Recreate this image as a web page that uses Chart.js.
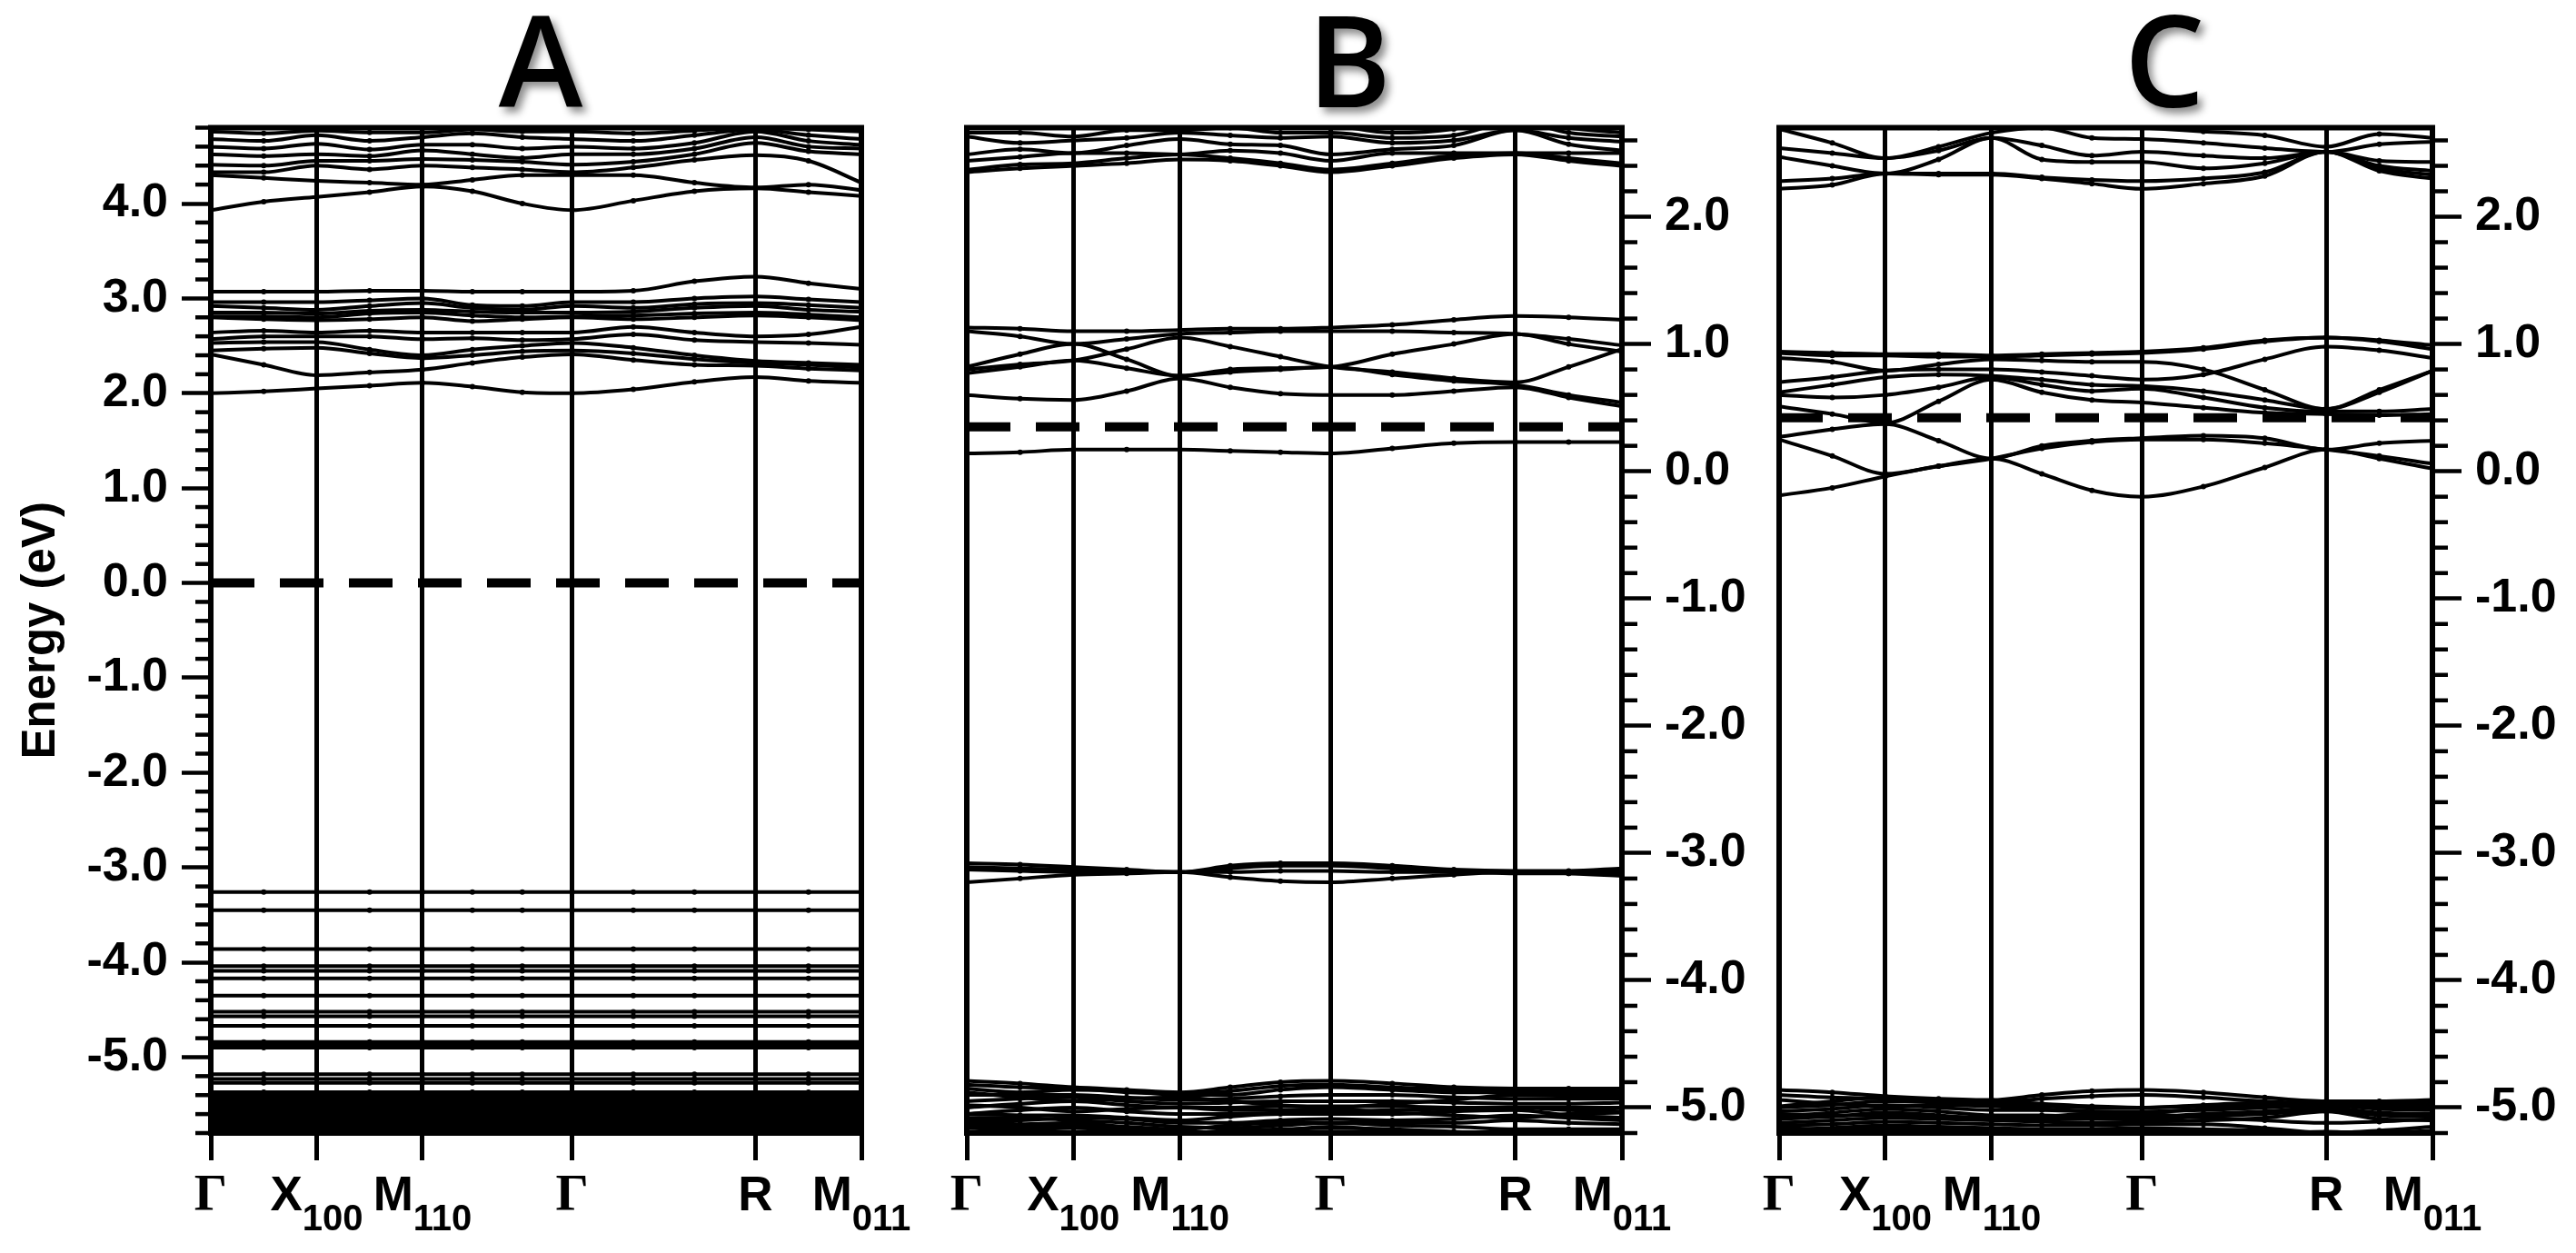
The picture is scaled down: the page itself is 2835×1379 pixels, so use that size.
<!DOCTYPE html>
<html>
<head>
<meta charset="utf-8">
<script src="https://cdn.jsdelivr.net/npm/chart.js@4.4.0/dist/chart.umd.min.js"></script>
<style>
  html, body { margin: 0; padding: 0; background: #fff; }
  body { width: 2835px; height: 1379px; position: relative; overflow: hidden; }
  canvas { position: absolute; top: 0; }
</style>
</head>
<body>
<canvas id="panelA" width="1010" height="1379" style="left:0px"></canvas>
<canvas id="panelB" width="950" height="1379" style="left:1000px"></canvas>
<canvas id="panelC" width="935" height="1379" style="left:1900px"></canvas>
<script>
// k-path: G - X100 - M110 - G - R - M011 (sample points along the path)
const kPath = [0, 0.25, 0.5, 0.75, 1.0, 1.2357, 1.4714, 1.7071, 1.9958, 2.2845, 2.5731, 2.8231, 3.0731];
const kTicks = [0, 0.5, 1.0, 1.7071, 2.5731, 3.0731];
const kLabelMain = ['Γ', 'X', 'M', 'Γ', 'R', 'M'];
const kLabelSub = ['', '100', '110', '', '', '011'];

const yTicksA = [-5, -4, -3, -2, -1, 0, 1, 2, 3, 4];
const yTicksBC = [-5, -4, -3, -2, -1, 0, 1, 2];

// Panel A
const fermiA = 0.0;
const condLowA = [
  [2.00, 2.02, 2.05, 2.08, 2.11, 2.07, 2.01, 2.00, 2.04, 2.12, 2.17, 2.13, 2.11],
  [2.41, 2.30, 2.19, 2.22, 2.25, 2.32, 2.38, 2.41, 2.35, 2.30, 2.29, 2.26, 2.24],
  [2.45, 2.47, 2.48, 2.42, 2.37, 2.40, 2.44, 2.45, 2.42, 2.36, 2.32, 2.30, 2.27],
  [2.53, 2.54, 2.54, 2.46, 2.40, 2.46, 2.50, 2.53, 2.48, 2.40, 2.34, 2.32, 2.30],
  [2.57, 2.60, 2.60, 2.60, 2.57, 2.58, 2.56, 2.57, 2.62, 2.56, 2.54, 2.53, 2.51],
  [2.64, 2.66, 2.64, 2.66, 2.64, 2.64, 2.64, 2.64, 2.70, 2.64, 2.60, 2.62, 2.70],
  [2.80, 2.78, 2.77, 2.78, 2.80, 2.76, 2.78, 2.80, 2.78, 2.80, 2.82, 2.80, 2.77],
  [2.81, 2.81, 2.80, 2.84, 2.85, 2.82, 2.80, 2.81, 2.82, 2.84, 2.85, 2.83, 2.80],
  [2.85, 2.85, 2.84, 2.87, 2.88, 2.86, 2.85, 2.85, 2.86, 2.90, 2.92, 2.88, 2.86],
  [2.92, 2.90, 2.88, 2.92, 2.95, 2.90, 2.88, 2.92, 2.90, 2.94, 2.95, 2.93, 2.90],
  [2.96, 2.96, 2.96, 2.98, 3.00, 2.93, 2.92, 2.96, 2.96, 3.00, 3.02, 2.99, 2.96],
  [3.07, 3.07, 3.07, 3.08, 3.08, 3.07, 3.07, 3.07, 3.08, 3.18, 3.23, 3.16, 3.10]
];
const condHighA = [
  [3.93, 4.02, 4.07, 4.12, 4.18, 4.13, 4.00, 3.93, 4.03, 4.13, 4.16, 4.12, 4.08],
  [4.30, 4.27, 4.24, 4.22, 4.20, 4.25, 4.30, 4.30, 4.30, 4.22, 4.17, 4.20, 4.14],
  [4.33, 4.33, 4.40, 4.36, 4.40, 4.38, 4.36, 4.33, 4.38, 4.46, 4.51, 4.45, 4.22],
  [4.41, 4.40, 4.45, 4.45, 4.47, 4.46, 4.44, 4.41, 4.44, 4.52, 4.64, 4.55, 4.52],
  [4.52, 4.50, 4.52, 4.50, 4.56, 4.52, 4.48, 4.52, 4.52, 4.58, 4.70, 4.60, 4.58],
  [4.60, 4.58, 4.63, 4.57, 4.62, 4.62, 4.58, 4.60, 4.58, 4.64, 4.76, 4.66, 4.62],
  [4.68, 4.66, 4.72, 4.66, 4.70, 4.74, 4.70, 4.68, 4.66, 4.72, 4.78, 4.72, 4.68],
  [4.76, 4.74, 4.77, 4.75, 4.75, 4.78, 4.76, 4.76, 4.74, 4.77, 4.80, 4.78, 4.76],
  [4.85, 4.84, 4.85, 4.85, 4.82, 4.85, 4.85, 4.85, 4.82, 4.84, 4.86, 4.84, 4.82]
];
// flat valence levels of A
const valFlatA = [-3.26, -3.45, -3.86, -4.04, -4.09, -4.17, -4.35, -4.52, -4.57, -4.67,
  -4.84, -4.87, -4.90, -5.18, -5.23, -5.27];
const valDenseA = [-5.37, -5.40, -5.43, -5.46, -5.49, -5.52, -5.55, -5.58, -5.61, -5.64,
  -5.67, -5.70, -5.73, -5.76, -5.79];

// Panel B
const fermiB = 0.35;
const condB = [
  [0.14, 0.15, 0.17, 0.17, 0.17, 0.16, 0.15, 0.14, 0.18, 0.22, 0.23, 0.23, 0.23],
  [0.60, 0.57, 0.56, 0.63, 0.73, 0.66, 0.61, 0.60, 0.60, 0.63, 0.66, 0.58, 0.51],
  [0.77, 0.82, 0.87, 0.81, 0.75, 0.78, 0.80, 0.82, 0.76, 0.71, 0.68, 0.60, 0.54],
  [0.80, 0.84, 0.87, 0.96, 1.05, 0.98, 0.90, 0.82, 0.78, 0.73, 0.70, 0.82, 0.96],
  [0.82, 0.92, 1.00, 0.88, 0.75, 0.80, 0.81, 0.82, 0.92, 1.00, 1.08, 1.00, 0.94],
  [1.10, 1.06, 1.00, 1.04, 1.08, 1.09, 1.10, 1.10, 1.10, 1.09, 1.08, 1.04, 0.99],
  [1.13, 1.12, 1.10, 1.10, 1.11, 1.12, 1.12, 1.13, 1.15, 1.19, 1.22, 1.21, 1.19]
];
const condHighB = [
  [2.35, 2.38, 2.40, 2.42, 2.45, 2.44, 2.40, 2.35, 2.40, 2.46, 2.49, 2.44, 2.40],
  [2.37, 2.41, 2.42, 2.46, 2.49, 2.46, 2.42, 2.37, 2.42, 2.48, 2.50, 2.46, 2.42],
  [2.44, 2.47, 2.50, 2.50, 2.49, 2.52, 2.50, 2.44, 2.50, 2.50, 2.50, 2.50, 2.50],
  [2.49, 2.53, 2.50, 2.56, 2.61, 2.57, 2.56, 2.49, 2.53, 2.56, 2.68, 2.57, 2.52],
  [2.63, 2.58, 2.60, 2.62, 2.66, 2.64, 2.62, 2.63, 2.58, 2.60, 2.68, 2.62, 2.59],
  [2.66, 2.66, 2.63, 2.68, 2.68, 2.70, 2.66, 2.66, 2.62, 2.64, 2.75, 2.66, 2.63],
  [2.72, 2.78, 2.75, 2.76, 2.74, 2.76, 2.74, 2.72, 2.66, 2.69, 2.80, 2.70, 2.66]
];
const valMidB = [
  [-3.23, -3.20, -3.17, -3.16, -3.15, -3.19, -3.22, -3.23, -3.20, -3.17, -3.15, -3.16, -3.18],
  [-3.13, -3.14, -3.15, -3.15, -3.15, -3.15, -3.14, -3.14, -3.15, -3.15, -3.16, -3.16, -3.16],
  [-3.11, -3.12, -3.13, -3.14, -3.15, -3.12, -3.10, -3.10, -3.12, -3.14, -3.15, -3.15, -3.14],
  [-3.08, -3.09, -3.11, -3.13, -3.15, -3.10, -3.08, -3.08, -3.10, -3.13, -3.14, -3.14, -3.12]
];
const valLowB = [
  [-4.79, -4.81, -4.84, -4.86, -4.88, -4.84, -4.80, -4.79, -4.81, -4.84, -4.85, -4.85, -4.85],
  [-4.82, -4.84, -4.85, -4.88, -4.89, -4.87, -4.83, -4.82, -4.84, -4.86, -4.87, -4.87, -4.88],
  [-4.85, -4.88, -4.86, -4.87, -4.90, -4.90, -4.86, -4.84, -4.86, -4.88, -4.88, -4.89, -4.90],
  [-4.88, -4.92, -4.95, -4.93, -4.92, -4.95, -4.98, -5.00, -4.97, -4.94, -4.90, -4.91, -4.92],
  [-4.90, -4.90, -4.90, -4.92, -4.94, -4.93, -4.91, -4.90, -4.90, -4.92, -4.93, -4.93, -4.93],
  [-4.95, -4.93, -4.92, -4.95, -4.97, -4.96, -4.95, -4.95, -4.95, -4.96, -4.97, -4.97, -4.96],
  [-4.98, -5.00, -5.03, -5.01, -5.00, -5.02, -5.02, -5.01, -5.04, -5.06, -5.08, -5.05, -5.04],
  [-5.00, -4.97, -4.95, -4.98, -5.00, -5.00, -4.99, -4.99, -4.99, -5.00, -5.00, -5.00, -5.00],
  [-5.05, -5.02, -5.00, -5.03, -5.05, -5.05, -5.04, -5.03, -5.02, -5.01, -5.00, -5.02, -5.03],
  [-5.05, -5.06, -5.06, -5.08, -5.10, -5.07, -5.05, -5.05, -5.05, -5.03, -5.02, -5.06, -5.08],
  [-5.08, -5.08, -5.10, -5.12, -5.15, -5.16, -5.14, -5.12, -5.12, -5.12, -5.10, -5.12, -5.13],
  [-5.10, -5.10, -5.08, -5.09, -5.12, -5.12, -5.10, -5.09, -5.10, -5.09, -5.06, -5.08, -5.10],
  [-5.12, -5.13, -5.12, -5.15, -5.17, -5.14, -5.12, -5.12, -5.14, -5.15, -5.17, -5.17, -5.17],
  [-5.14, -5.15, -5.14, -5.17, -5.19, -5.20, -5.18, -5.15, -5.18, -5.20, -5.19, -5.19, -5.20],
  [-5.16, -5.17, -5.16, -5.18, -5.20, -5.18, -5.17, -5.16, -5.17, -5.19, -5.21, -5.20, -5.19],
  [-5.19, -5.20, -5.20, -5.21, -5.22, -5.21, -5.20, -5.19, -5.20, -5.21, -5.22, -5.22, -5.22]
];

// Panel C
const fermiC = 0.42;
const condC = [
  [-0.19, -0.13, -0.04, 0.04, 0.10, -0.02, -0.15, -0.20, -0.12, 0.03, 0.17, 0.10, 0.02],
  [0.25, 0.12, -0.02, 0.04, 0.10, 0.18, 0.23, 0.25, 0.25, 0.22, 0.17, 0.12, 0.06],
  [0.27, 0.33, 0.37, 0.24, 0.10, 0.20, 0.24, 0.26, 0.28, 0.26, 0.17, 0.22, 0.24],
  [0.51, 0.45, 0.38, 0.55, 0.72, 0.62, 0.56, 0.54, 0.50, 0.46, 0.45, 0.44, 0.45],
  [0.60, 0.58, 0.60, 0.66, 0.74, 0.68, 0.63, 0.65, 0.58, 0.50, 0.47, 0.47, 0.49],
  [0.62, 0.68, 0.74, 0.76, 0.75, 0.72, 0.68, 0.67, 0.63, 0.56, 0.49, 0.64, 0.79],
  [0.70, 0.74, 0.79, 0.80, 0.80, 0.78, 0.75, 0.72, 0.76, 0.88, 0.98, 0.95, 0.89],
  [0.89, 0.86, 0.79, 0.84, 0.88, 0.87, 0.86, 0.86, 0.80, 0.64, 0.49, 0.62, 0.79],
  [0.93, 0.91, 0.91, 0.90, 0.90, 0.91, 0.92, 0.93, 0.96, 1.02, 1.05, 1.03, 0.99],
  [0.94, 0.93, 0.92, 0.92, 0.91, 0.92, 0.93, 0.94, 0.97, 1.03, 1.05, 1.02, 0.96]
];
const condHighC = [
  [2.22, 2.25, 2.34, 2.33, 2.33, 2.30, 2.26, 2.22, 2.26, 2.32, 2.51, 2.36, 2.30],
  [2.28, 2.30, 2.34, 2.34, 2.34, 2.31, 2.29, 2.28, 2.30, 2.35, 2.51, 2.38, 2.33],
  [2.47, 2.40, 2.34, 2.45, 2.62, 2.45, 2.43, 2.43, 2.38, 2.42, 2.51, 2.40, 2.36],
  [2.54, 2.50, 2.46, 2.52, 2.62, 2.56, 2.48, 2.51, 2.48, 2.46, 2.51, 2.44, 2.43],
  [2.69, 2.58, 2.46, 2.55, 2.66, 2.70, 2.62, 2.61, 2.58, 2.54, 2.51, 2.57, 2.59],
  [2.75, 2.72, 2.75, 2.70, 2.72, 2.75, 2.72, 2.70, 2.67, 2.64, 2.55, 2.65, 2.62]
];
const valLowC = [
  [-4.86, -4.88, -4.91, -4.93, -4.94, -4.90, -4.87, -4.86, -4.88, -4.92, -4.95, -4.95, -4.94],
  [-4.90, -4.92, -4.93, -4.95, -4.96, -4.93, -4.91, -4.90, -4.92, -4.95, -4.97, -4.96, -4.95],
  [-4.94, -4.97, -4.99, -4.98, -4.99, -5.01, -5.03, -5.04, -5.01, -4.99, -4.97, -4.99, -5.00],
  [-4.99, -4.95, -4.92, -4.94, -4.95, -4.97, -4.99, -5.00, -4.98, -4.96, -4.96, -4.96, -4.96],
  [-5.00, -4.98, -4.95, -4.96, -4.97, -4.99, -5.00, -5.00, -4.99, -4.98, -4.98, -4.98, -4.98],
  [-5.03, -5.01, -4.98, -5.00, -5.02, -5.02, -5.03, -5.03, -5.02, -5.00, -4.98, -5.01, -5.02],
  [-5.05, -5.06, -5.06, -5.07, -5.08, -5.07, -5.05, -5.05, -5.08, -5.10, -5.12, -5.11, -5.09],
  [-5.07, -5.04, -5.01, -5.03, -5.06, -5.06, -5.07, -5.07, -5.05, -5.03, -5.00, -5.04, -5.05],
  [-5.09, -5.07, -5.04, -5.06, -5.09, -5.09, -5.09, -5.09, -5.07, -5.05, -5.02, -5.06, -5.07],
  [-5.12, -5.10, -5.08, -5.09, -5.10, -5.11, -5.12, -5.11, -5.10, -5.08, -5.03, -5.09, -5.10],
  [-5.14, -5.13, -5.11, -5.12, -5.13, -5.14, -5.14, -5.13, -5.13, -5.16, -5.20, -5.18, -5.15],
  [-5.15, -5.18, -5.16, -5.17, -5.18, -5.19, -5.18, -5.17, -5.19, -5.20, -5.19, -5.21, -5.20],
  [-5.17, -5.16, -5.14, -5.15, -5.16, -5.17, -5.17, -5.16, -5.17, -5.18, -5.21, -5.20, -5.18],
  [-5.20, -5.19, -5.18, -5.19, -5.20, -5.20, -5.20, -5.19, -5.20, -5.21, -5.22, -5.22, -5.21]
];

const PLOT_TOP = 140.5;
const PLOT_BOTTOM = 1247;
const X_AXIS_H = 40;
const TICK_FONT = { family: '"Liberation Sans", Arial, Helvetica, sans-serif', size: 52, weight: 'bold' };

function bandLine(values) {
  return {
    data: kPath.map((k, i) => ({ x: k, y: values[i] })),
    borderColor: '#000',
    borderWidth: 4,
    pointRadius: 3,
    pointBackgroundColor: '#000',
    pointBorderWidth: 0,
    cubicInterpolationMode: 'monotone',
    fill: false
  };
}

function flatLine(level) {
  return bandLine(kPath.map(() => level));
}

function fermiLine(ef) {
  return {
    data: [{ x: kTicks[0], y: ef }, { x: kTicks[kTicks.length - 1], y: ef }],
    borderColor: '#000',
    borderWidth: 10,
    borderDash: [48, 28],
    borderCapStyle: 'butt',
    pointRadius: 0,
    fill: false
  };
}

// frame, minor ticks, k-point labels and panel letter
const panelDecor = {
  id: 'panelDecor',
  afterDatasetsDraw(chart, args, opts) {
    const ctx = chart.ctx;
    const area = chart.chartArea;
    const y = chart.scales.y;
    ctx.save();
    ctx.strokeStyle = '#000';
    ctx.lineWidth = 6;
    ctx.strokeRect(area.left, area.top, area.right - area.left, area.bottom - area.top);

    // minor ticks every 0.2 eV
    ctx.lineWidth = 4.5;
    const start = Math.ceil(y.min / 0.2 - 1e-6);
    const end = Math.floor(y.max / 0.2 + 1e-6);
    for (let i = start; i <= end; i++) {
      const v = i * 0.2;
      if (Math.abs(v - Math.round(v)) < 1e-6) continue;
      const py = y.getPixelForValue(v);
      ctx.beginPath();
      if (opts.side === 'left') {
        ctx.moveTo(area.left, py);
        ctx.lineTo(area.left - 17, py);
      } else {
        ctx.moveTo(area.right, py);
        ctx.lineTo(area.right + 17, py);
      }
      ctx.stroke();
    }

    // k-point labels with subscripts
    const x = chart.scales.x;
    ctx.fillStyle = '#000';
    ctx.textBaseline = 'alphabetic';
    ctx.textAlign = 'left';
    kTicks.forEach((k, i) => {
      const px = x.getPixelForValue(k);
      const main = kLabelMain[i];
      const mainFont = main === 'Γ'
        ? 'bold 57px "Liberation Serif", "DejaVu Serif", serif'
        : 'bold 53px "Liberation Sans", Arial, sans-serif';
      const subFont = 'bold 40px "Liberation Sans", Arial, sans-serif';
      ctx.font = mainFont;
      const mw = ctx.measureText(main).width;
      ctx.font = subFont;
      const sw = kLabelSub[i] ? ctx.measureText(kLabelSub[i]).width : 0;
      const x0 = px - (mw + sw) / 2;
      ctx.font = mainFont;
      ctx.fillText(main, x0, 1332);
      if (kLabelSub[i]) {
        ctx.font = subFont;
        ctx.fillText(kLabelSub[i], x0 + mw, 1354);
      }
    });

    // panel letter
    ctx.font = '600 140px "Open Sans", "Liberation Sans", sans-serif';
    ctx.textAlign = 'center';
    ctx.shadowColor = 'rgba(0, 0, 0, 0.45)';
    ctx.shadowOffsetX = 5;
    ctx.shadowOffsetY = 6;
    ctx.shadowBlur = 8;
    ctx.fillText(opts.letter, opts.letterX, 118);
    ctx.restore();
  }
};

function makePanel(id, cfg) {
  const canvas = document.getElementById(id);
  return new Chart(canvas.getContext('2d'), {
    type: 'line',
    data: { datasets: cfg.datasets },
    options: {
      responsive: false,
      animation: false,
      devicePixelRatio: 1,
      layout: {
        padding: {
          left: cfg.padLeft,
          right: cfg.padRight,
          top: PLOT_TOP,
          bottom: canvas.height - PLOT_BOTTOM - X_AXIS_H
        }
      },
      scales: {
        x: {
          type: 'linear',
          min: kTicks[0],
          max: kTicks[kTicks.length - 1],
          afterBuildTicks: (scale) => { scale.ticks = kTicks.map(v => ({ value: v })); },
          afterFit: (scale) => { scale.height = X_AXIS_H; },
          ticks: { display: false },
          grid: {
            display: true,
            drawOnChartArea: true,
            drawTicks: true,
            tickLength: 30,
            color: '#000',
            lineWidth: 5,
            tickColor: '#000',
            tickWidth: 5
          },
          border: { display: true, color: '#000', width: 6 }
        },
        y: {
          type: 'linear',
          position: cfg.side,
          min: cfg.yMin,
          max: cfg.yMax,
          afterBuildTicks: (scale) => { scale.ticks = cfg.yTicks.map(v => ({ value: v })); },
          afterFit: (scale) => { scale.width = cfg.yWidth; },
          ticks: {
            color: '#000',
            font: TICK_FONT,
            padding: 15,
            callback: (v) => v.toFixed(1)
          },
          grid: {
            display: true,
            drawOnChartArea: false,
            drawTicks: true,
            tickLength: 32,
            tickColor: '#000',
            tickWidth: 4.5
          },
          border: { display: true, color: '#000', width: 6 },
          title: {
            display: !!cfg.yTitle,
            text: cfg.yTitle || '',
            color: '#000',
            font: { family: '"Liberation Sans", Arial, Helvetica, sans-serif', size: 51, weight: 'bold' },
            padding: { top: 15, bottom: 0 }
          }
        }
      },
      plugins: {
        legend: { display: false },
        tooltip: { enabled: false },
        panelDecor: { side: cfg.side, letter: cfg.letter, letterX: cfg.letterX }
      }
    },
    plugins: [panelDecor]
  });
}

makePanel('panelA', {
  side: 'left', yMin: -5.8, yMax: 4.8, yTicks: yTicksA, yWidth: 232,
  padLeft: 0, padRight: 62, yTitle: 'Energy (eV)', letter: 'A', letterX: 595,
  datasets: [fermiLine(fermiA)]
    .concat(condLowA.map(bandLine))
    .concat(condHighA.map(bandLine))
    .concat(valFlatA.map(flatLine))
    .concat(valDenseA.map(flatLine))
});

makePanel('panelB', {
  side: 'right', yMin: -5.2, yMax: 2.7, yTicks: yTicksBC, yWidth: 150,
  padLeft: 64, padRight: 15, letter: 'B', letterX: 485,
  datasets: [fermiLine(fermiB)]
    .concat(condB.map(bandLine))
    .concat(condHighB.map(bandLine))
    .concat(valMidB.map(bandLine))
    .concat(valLowB.map(bandLine))
});

makePanel('panelC', {
  side: 'right', yMin: -5.2, yMax: 2.7, yTicks: yTicksBC, yWidth: 150,
  padLeft: 58, padRight: 8, letter: 'C', letterX: 482,
  datasets: [fermiLine(fermiC)]
    .concat(condC.map(bandLine))
    .concat(condHighC.map(bandLine))
    .concat(valLowC.map(bandLine))
});
</script>
</body>
</html>
